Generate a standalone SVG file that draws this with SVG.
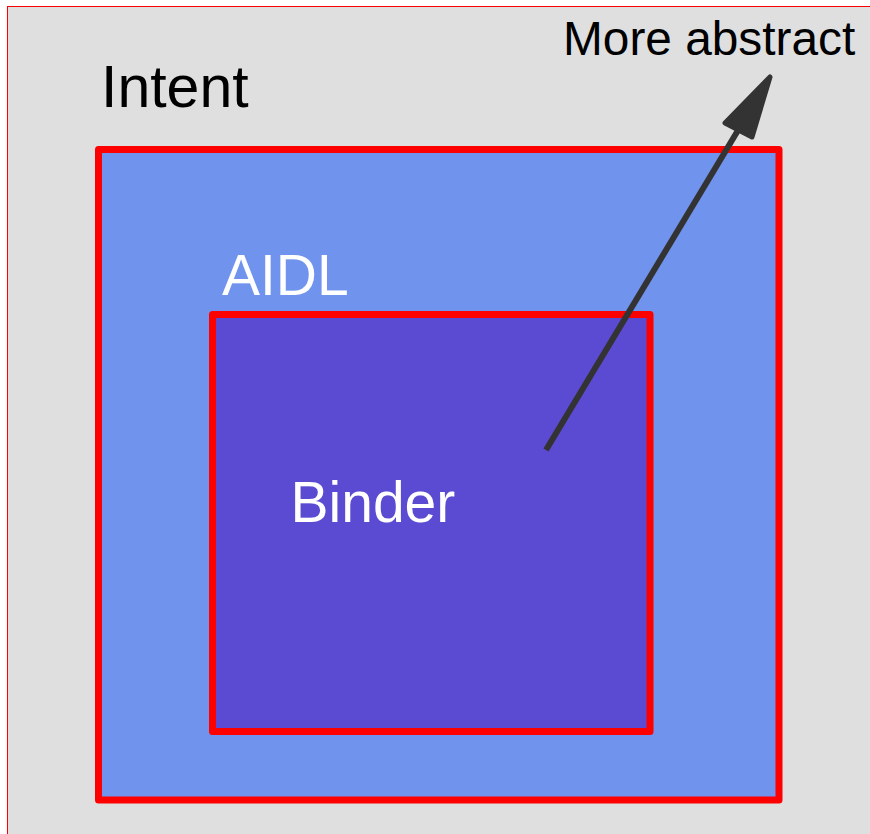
<svg xmlns="http://www.w3.org/2000/svg" width="870" height="834" viewBox="0 0 870 834">
  <style>
    .layer { stroke: #ff0000; stroke-width: 7; stroke-linejoin: round; }
    .label { font-family: "Liberation Sans", Arial, sans-serif; }
    .dark { fill: #000000; }
    .light { fill: #ffffff; }
  </style>
  <!-- page background -->
  <rect x="7.5" y="6.5" width="870" height="840" fill="#dfdfdf" stroke="#ff0000" stroke-width="1"/>

  <g id="intent">
    <rect class="layer" x="98.5" y="149.5" width="680.5" height="650.5" fill="#7093ee"/>
    <text class="label dark" x="101" y="107" font-size="59">Intent</text>
  </g>

  <g id="aidl">
    <rect class="layer" x="212.5" y="314.5" width="437.5" height="417" fill="#5b4bd3"/>
    <text class="label light" x="222" y="295" font-size="57">AIDL</text>
  </g>

  <g id="binder">
    <text class="label light" x="290.5" y="522" font-size="57">Binder</text>
  </g>

  <g id="more-abstract">
    <text class="label dark" x="563" y="55" font-size="47.8">More abstract</text>
  </g>

  <g id="connectors">
    <line x1="546" y1="450" x2="740" y2="127" stroke="#333333" stroke-width="6"/>
    <polygon points="770,77 752,137 725,123" fill="#333333" stroke="#333333" stroke-width="5" stroke-linejoin="round"/>
  </g>
</svg>
